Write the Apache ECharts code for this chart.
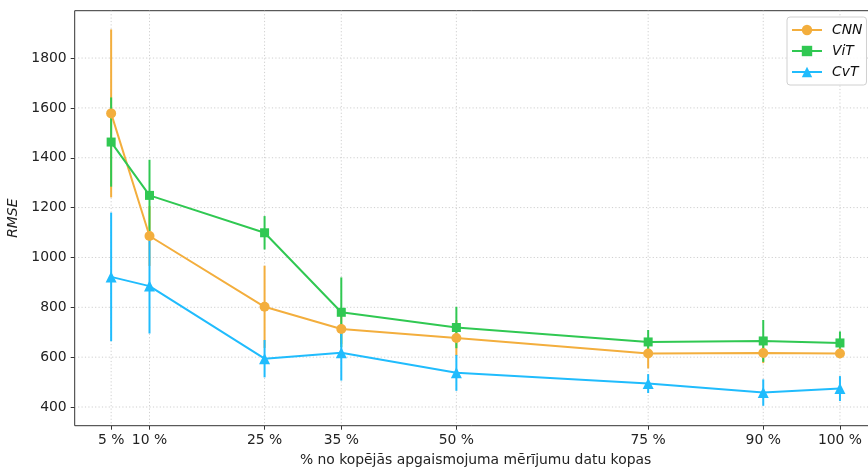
<!DOCTYPE html>
<html>
<head>
<meta charset="utf-8">
<script src="https://cdn.jsdelivr.net/npm/echarts@6/dist/echarts.min.js"></script>
<style>
  html, body { margin: 0; padding: 0; background: #ffffff; }
  #chart { width: 868px; height: 469px; }
</style>
</head>
<body>
<div id="chart"></div>
<script>
// Share of the full illumination measurement dataset (%)
const shares = [5, 10, 25, 35, 50, 75, 90, 100];
const shareLabels = ['5 %', '10 %', '25 %', '35 %', '50 %', '75 %', '90 %', '100 %'];
const rmseTicks = [400, 600, 800, 1000, 1200, 1400, 1600, 1800];

// Mean RMSE and its spread per model
const cnnMean = [1578, 1086, 802, 713, 677, 615, 617, 615];
const cnnErr  = [337, 120, 165, 60, 72, 60, 41, 15];
const vitMean = [1463, 1249, 1099, 780, 719, 661, 665, 657];
const vitErr  = [179, 143, 67, 140, 83, 48, 84, 46];
const cvtMean = [922, 885, 594, 618, 537, 494, 458, 474];
const cvtErr  = [258, 190, 75, 112, 72, 38, 53, 50];

const FONT = 'DejaVu Sans';
const FS = 13.9;
const colors = { CNN: '#F3AE3D', ViT: '#30C852', CvT: '#20BCFD' };

function meanLine(name, mean, symbol, size) {
  return {
    name: name,
    type: 'line',
    z: 3,
    data: shares.map((x, i) => [x, mean[i]]),
    symbol: symbol,
    symbolSize: size,
    showAllSymbol: true,
    lineStyle: { color: colors[name], width: 2 },
    itemStyle: { color: colors[name] },
    emphasis: { disabled: true },
    animation: false
  };
}

function errorBars(name, mean, err) {
  return {
    name: name + ' σ',
    type: 'custom',
    z: 2,
    silent: true,
    animation: false,
    data: shares.map((x, i) => [x, mean[i] - err[i], mean[i] + err[i]]),
    encode: { x: 0, y: [1, 2] },
    renderItem: (params, api) => {
      const lo = api.coord([api.value(0), api.value(1)]);
      const hi = api.coord([api.value(0), api.value(2)]);
      return {
        type: 'line',
        shape: { x1: lo[0], y1: lo[1], x2: hi[0], y2: hi[1] },
        style: { stroke: colors[name], lineWidth: 2 }
      };
    }
  };
}

// Dotted grid at the tick positions
const gridStyle = { stroke: '#cfcfcf', lineWidth: 1, lineDash: [1.2, 2.2] };
const vGrid = {
  type: 'custom', z: 0, silent: true, animation: false,
  data: shares.map(x => [x, 1000]),
  encode: { x: 0, y: 1 },
  renderItem: (params, api) => {
    const p = api.coord([api.value(0), api.value(1)]);
    const cs = params.coordSys;
    return { type: 'line', shape: { x1: p[0], y1: cs.y, x2: p[0], y2: cs.y + cs.height }, style: gridStyle };
  }
};
const hGrid = {
  type: 'custom', z: 0, silent: true, animation: false,
  data: rmseTicks.map(v => [50, v]),
  encode: { x: 0, y: 1 },
  renderItem: (params, api) => {
    const p = api.coord([api.value(0), api.value(1)]);
    const cs = params.coordSys;
    return { type: 'line', shape: { x1: cs.x, y1: p[1], x2: cs.x + cs.width, y2: p[1] }, style: gridStyle };
  }
};

const chart = echarts.init(document.getElementById('chart'), null, { renderer: 'canvas' });
chart.setOption({
  animation: false,
  backgroundColor: '#ffffff',
  textStyle: { fontFamily: FONT },
  grid: {
    left: 74.7, top: 10.7, bottom: 43.3, right: -8.4,
    containLabel: false,
    outerBoundsMode: 'none',
    show: true, borderColor: '#333333', borderWidth: 1, backgroundColor: 'transparent'
  },
  legend: {
    data: ['CNN', 'ViT', 'CvT'],
    orient: 'vertical',
    left: 787, top: 17,
    itemWidth: 30, itemHeight: 13, itemGap: 7,
    padding: [6, 4, 6, 4],
    borderColor: '#d0d0d0', borderWidth: 1, borderRadius: 3,
    backgroundColor: 'rgba(255,255,255,0.85)',
    textStyle: { fontFamily: FONT, fontSize: FS, fontStyle: 'italic', color: '#111', padding: [0, 0, 0, 5] },
    selectedMode: false
  },
  xAxis: {
    type: 'value',
    min: 0.25, max: 104.75,
    name: '% no kopējās apgaismojuma mērījumu datu kopas',
    nameLocation: 'middle', nameGap: 28,
    nameTextStyle: { fontFamily: FONT, fontSize: FS, color: '#222' },
    axisLine: { show: false },
    axisTick: { show: true, inside: false, length: 4, customValues: shares, lineStyle: { color: '#333', width: 1 } },
    axisLabel: {
      customValues: shares, margin: 8,
      fontFamily: FONT, fontSize: FS, color: '#222',
      formatter: v => shareLabels[shares.indexOf(v)] || ''
    },
    splitLine: { show: false }
  },
  yAxis: {
    type: 'value',
    min: 325, max: 1990,
    name: 'RMSE',
    nameLocation: 'middle', nameGap: 50,
    nameTextStyle: { fontFamily: FONT, fontSize: FS, fontStyle: 'italic', color: '#222' },
    axisLine: { show: false },
    axisTick: { show: true, inside: false, length: 4, customValues: rmseTicks, lineStyle: { color: '#333', width: 1 } },
    axisLabel: {
      customValues: rmseTicks, margin: 8, fontFamily: FONT, fontSize: FS, color: '#222',
      formatter: v => String(v)
    },
    splitLine: { show: false }
  },
  series: [
    vGrid, hGrid,
    errorBars('CNN', cnnMean, cnnErr),
    errorBars('ViT', vitMean, vitErr),
    errorBars('CvT', cvtMean, cvtErr),
    meanLine('CNN', cnnMean, 'circle', 10),
    meanLine('ViT', vitMean, 'rect', 9),
    meanLine('CvT', cvtMean, 'triangle', 11)
  ]
});
</script>
</body>
</html>
